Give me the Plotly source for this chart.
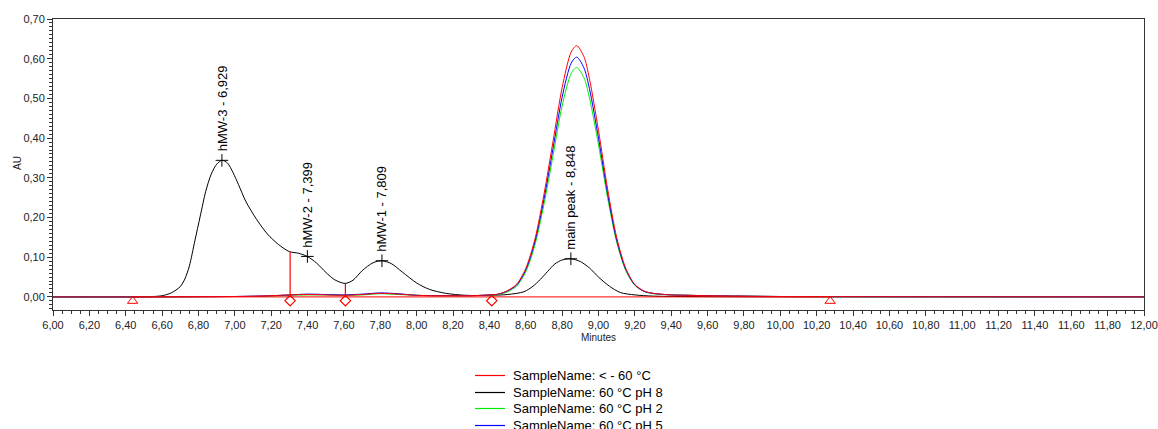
import plotly.graph_objects as go

# ---------------- data ----------------
time_black = [6.00, 6.40, 6.55, 6.60, 6.65, 6.70, 6.725, 6.75, 6.78, 6.81, 6.84, 6.87, 6.90, 6.929,
              6.96, 6.99, 7.02, 7.06, 7.12, 7.18, 7.24, 7.30, 7.35, 7.399, 7.45, 7.50, 7.55, 7.606,
              7.65, 7.70, 7.76, 7.809, 7.86, 7.92, 8.00, 8.07, 8.16, 8.27, 8.40, 8.50, 8.59, 8.64,
              8.68, 8.72, 8.76, 8.80, 8.848, 8.90, 8.95, 9.00, 9.06, 9.12, 9.20, 9.30, 9.45, 9.70,
              10.00, 11.00, 12.00]
au_ph8 = [0.0, 0.0, 0.001, 0.003, 0.010, 0.026, 0.045, 0.078, 0.141, 0.204, 0.266, 0.309, 0.334, 0.344,
          0.337, 0.313, 0.283, 0.241, 0.195, 0.158, 0.132, 0.114, 0.110, 0.102, 0.085, 0.062, 0.043, 0.034,
          0.042, 0.066, 0.086, 0.091, 0.084, 0.063, 0.035, 0.019, 0.009, 0.004, 0.004, 0.006, 0.013, 0.027,
          0.044, 0.064, 0.083, 0.093, 0.096, 0.089, 0.073, 0.050, 0.027, 0.011, 0.005, 0.002, 0.001, 0.0005,
          0.0, 0.0, 0.0]

time_color = [6.00, 6.60, 7.00, 7.20, 7.30, 7.40, 7.50, 7.60, 7.70, 7.80, 7.90, 8.00, 8.10, 8.20, 8.30,
              8.40, 8.45, 8.50, 8.55, 8.60, 8.65, 8.70, 8.75, 8.80, 8.85, 8.88, 8.92, 8.95, 9.00, 9.05,
              9.10, 9.15, 9.20, 9.25, 9.30, 9.40, 9.50, 9.60, 9.80, 10.00, 10.50, 11.00, 12.00]
au_minus60 = [0.0, 0.0, 0.001, 0.003, 0.005, 0.006, 0.005, 0.004, 0.006, 0.009, 0.007, 0.004, 0.003, 0.003, 0.003,
              0.005, 0.007, 0.016, 0.032, 0.072, 0.145, 0.258, 0.392, 0.527, 0.617, 0.633, 0.605, 0.550, 0.419, 0.272,
              0.150, 0.072, 0.031, 0.015, 0.009, 0.005, 0.004, 0.003, 0.002, 0.001, 0.0005, 0.0003, 0.0]
au_ph5 = [0.0, 0.0, 0.001, 0.003, 0.005, 0.007, 0.006, 0.005, 0.007, 0.010, 0.008, 0.004, 0.003, 0.003, 0.003,
          0.005, 0.007, 0.015, 0.030, 0.068, 0.138, 0.246, 0.374, 0.503, 0.589, 0.604, 0.577, 0.525, 0.400, 0.260,
          0.143, 0.069, 0.030, 0.014, 0.009, 0.005, 0.004, 0.003, 0.002, 0.001, 0.0005, 0.0003, 0.0]
au_ph2 = [0.0, 0.0, 0.001, 0.002, 0.004, 0.005, 0.005, 0.004, 0.005, 0.008, 0.006, 0.004, 0.003, 0.003, 0.003,
          0.004, 0.006, 0.013, 0.027, 0.063, 0.130, 0.233, 0.356, 0.481, 0.563, 0.578, 0.552, 0.502, 0.383, 0.250,
          0.138, 0.066, 0.029, 0.014, 0.008, 0.005, 0.004, 0.003, 0.002, 0.001, 0.0005, 0.0003, 0.0]

peak_names = ["hMW-3", "hMW-2", "hMW-1", "main peak"]
peak_rt = [6.929, 7.399, 7.809, 8.848]
peak_au = [0.344, 0.102, 0.091, 0.096]

baseline_x = [6.44, 10.27]
baseline_y = [0.0, 0.0]
drop_x = [7.304, 7.608]
drop_top = [0.114, 0.033]
diamond_x = [7.304, 7.608, 8.413]
triangle_x = [6.438, 10.274]

legend_names = ["SampleName: < - 60 °C", "SampleName: 60 °C pH 8",
                "SampleName: 60 °C pH 2", "SampleName: 60 °C pH 5"]
legend_colors = ["#ff0000", "#000000", "#00ee00", "#0000ff"]

# ---------------- figure ----------------
FONT = "Arial, 'Liberation Sans', sans-serif"
fig = go.Figure()
line_kw = dict(shape="spline", smoothing=0.8, width=1)

fig.add_trace(go.Scatter(x=time_black, y=au_ph8, mode="lines", name=legend_names[1],
                         line=dict(color=legend_colors[1], **line_kw)))
fig.add_trace(go.Scatter(x=time_color, y=au_ph2, mode="lines", name=legend_names[2],
                         line=dict(color=legend_colors[2], **line_kw)))
fig.add_trace(go.Scatter(x=time_color, y=au_ph5, mode="lines", name=legend_names[3],
                         line=dict(color=legend_colors[3], **line_kw)))
fig.add_trace(go.Scatter(x=time_color, y=au_minus60, mode="lines", name=legend_names[0],
                         line=dict(color=legend_colors[0], **line_kw)))

# integration baseline and drop lines
fig.add_trace(go.Scatter(x=baseline_x, y=baseline_y, mode="lines",
                         line=dict(color="#ff0000", width=1)))
dx, dy = [], []
for x, t in zip(drop_x, drop_top):
    dx += [x, x, None]
    dy += [0.0, t, None]
fig.add_trace(go.Scatter(x=dx, y=dy, mode="lines", line=dict(color="#ff0000", width=1.2)))

# baseline event markers
fig.add_trace(go.Scatter(x=diamond_x, y=[-0.0095] * len(diamond_x), mode="markers",
                         marker=dict(symbol="diamond-open", size=8, color="#ff0000",
                                     line=dict(width=1.2))))
fig.add_trace(go.Scatter(x=triangle_x, y=[-0.0105] * len(triangle_x), mode="markers",
                         marker=dict(symbol="triangle-up-open", size=9, color="#ff0000",
                                     line=dict(width=1))))

# apex crosses
fig.add_trace(go.Scatter(x=peak_rt, y=peak_au, mode="markers",
                         marker=dict(symbol="cross-thin", size=9,
                                     line=dict(width=1, color="#000000"))))

for name, rt, au in zip(peak_names, peak_rt, peak_au):
    label = f"{name} - {rt:.3f}".replace(".", ",")
    fig.add_annotation(x=rt, y=au, text=label, textangle=-90, showarrow=False,
                       xanchor="center", yanchor="bottom", yshift=7,
                       font=dict(family=FONT, size=13, color="#000000"))

# axis titles
L, R, T, B = 53, 1144, 19, 310
W, H = R - L, B - T
def px(xp):
    return (xp - L) / W
def py(yp):
    return (B - yp) / H

fig.add_annotation(x=px(598), y=py(337), xref="paper", yref="paper", text="Minutes",
                   showarrow=False, xanchor="center", yanchor="middle",
                   font=dict(family=FONT, size=10, color="#222"))
fig.add_annotation(x=px(17), y=py(163), xref="paper", yref="paper", text="AU",
                   textangle=-90, showarrow=False, xanchor="center", yanchor="middle",
                   font=dict(family=FONT, size=10, color="#222"))

# manual legend
row_y = [375.5, 392.5, 408.5, 425.5]
for nm, col, yy in zip(legend_names, legend_colors, row_y):
    fig.add_shape(type="line", xref="paper", yref="paper", x0=px(475), x1=px(505),
                  y0=py(yy), y1=py(yy), line=dict(color=col, width=1.2))
    fig.add_annotation(x=px(511), y=py(yy), xref="paper", yref="paper", text=nm,
                       showarrow=False, xanchor="left", yanchor="middle",
                       font=dict(family=FONT, size=13, color="#000000"))

axis_common = dict(showline=True, linecolor="#333333", linewidth=1, mirror=True,
                   showgrid=False, zeroline=False, ticks="outside", tickcolor="#333333",
                   automargin=False,
                   tickformat=".2f", tickfont=dict(family=FONT, size=11, color="#222222"))
fig.update_xaxes(range=[6, 12], tick0=6, dtick=0.2, ticklen=5,
                 minor=dict(dtick=0.05, ticks="outside", ticklen=3, tickcolor="#333333"),
                 **axis_common)
fig.update_yaxes(range=[-0.033, 0.70], tick0=0, dtick=0.1, ticklen=5,
                 minor=dict(dtick=0.01, ticks="outside", ticklen=3, tickcolor="#333333"),
                 **axis_common)

fig.update_layout(width=1158, height=429, margin=dict(l=L, r=1158 - R, t=T, b=429 - B),
                  plot_bgcolor="white", paper_bgcolor="white", separators=", ",
                  showlegend=False, font=dict(family=FONT, size=11, color="#222"))

fig.write_html("out.html")
